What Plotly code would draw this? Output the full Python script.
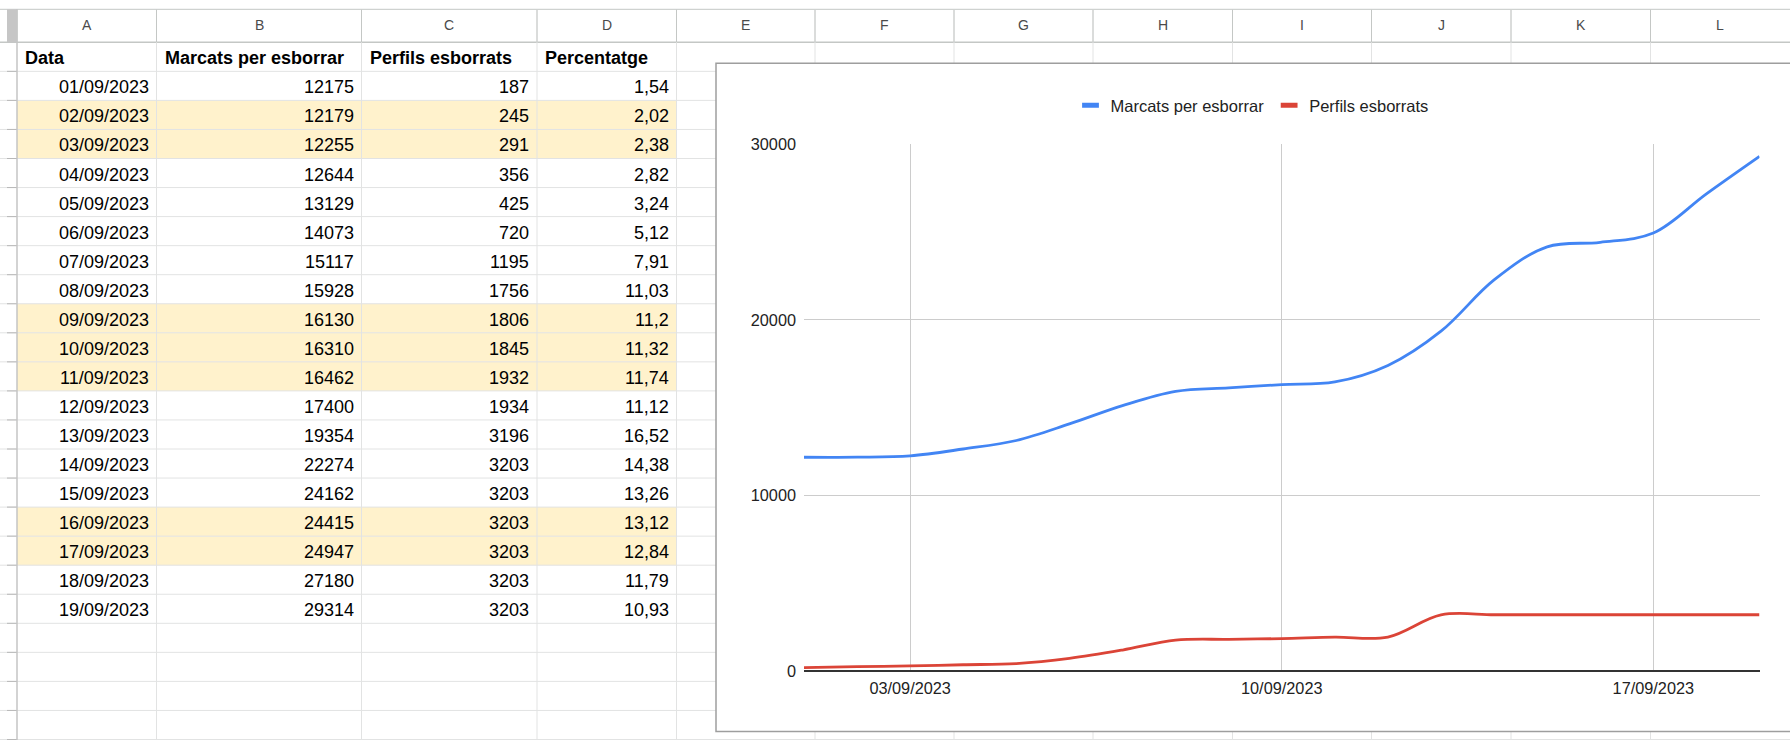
import plotly.graph_objects as go
import pandas as pd

# ---------------- data ----------------
dates = ["01/09/2023", "02/09/2023", "03/09/2023", "04/09/2023", "05/09/2023",
         "06/09/2023", "07/09/2023", "08/09/2023", "09/09/2023", "10/09/2023",
         "11/09/2023", "12/09/2023", "13/09/2023", "14/09/2023", "15/09/2023",
         "16/09/2023", "17/09/2023", "18/09/2023", "19/09/2023"]
marcats = [12175, 12179, 12255, 12644, 13129, 14073, 15117, 15928, 16130, 16310,
           16462, 17400, 19354, 22274, 24162, 24415, 24947, 27180, 29314]
perfils = [187, 245, 291, 356, 425, 720, 1195, 1756, 1806, 1845,
           1932, 1934, 3196, 3203, 3203, 3203, 3203, 3203, 3203]
percentatge = [1.54, 2.02, 2.38, 2.82, 3.24, 5.12, 7.91, 11.03, 11.2, 11.32,
               11.74, 11.12, 16.52, 14.38, 13.26, 13.12, 12.84, 11.79, 10.93]
headers = ["Data", "Marcats per esborrar", "Perfils esborrats", "Percentatge"]
col_letters = ["A", "B", "C", "D", "E", "F", "G", "H", "I", "J", "K", "L"]
highlight_rows = ["02/09/2023", "03/09/2023", "09/09/2023", "10/09/2023",
                  "11/09/2023", "16/09/2023", "17/09/2023"]
series_names = ["Marcats per esborrar", "Perfils esborrats"]

# ---------------- layout helpers ----------------
W, H = 1790, 740
FONT = "Arial, 'Liberation Sans', sans-serif"


def px(x):
    return x / W


def py(y):
    return 1 - y / H


col_edges = [17, 156.5, 361.5, 537, 676.5, 815, 954, 1093, 1232.5, 1371.5, 1511, 1650.5, 1790]
hdr_top, hdr_bot = 9.3, 42.3
row_h = 29.05
n_rows = 24
row_lines = [hdr_bot + row_h * k for k in range(1, n_rows + 1)]

shapes = []
annotations = []

# yellow highlighted rows
for i, d in enumerate(dates):
    if d in highlight_rows:
        y0 = hdr_bot + row_h * (i + 1)
        shapes.append(dict(type="rect", xref="paper", yref="paper", layer="below",
                           x0=px(col_edges[0]), x1=px(col_edges[4]),
                           y0=py(y0), y1=py(y0 + row_h),
                           fillcolor="#fff2cc", line=dict(width=0)))

# horizontal grid lines
for y in row_lines:
    shapes.append(dict(type="line", xref="paper", yref="paper", layer="below",
                       x0=0, x1=1, y0=py(y), y1=py(y),
                       line=dict(color="#e2e3e3", width=1)))
    shapes.append(dict(type="line", xref="paper", yref="paper", layer="below",
                       x0=px(7), x1=px(17), y0=py(y), y1=py(y),
                       line=dict(color="#b8b8b8", width=1)))
shapes.append(dict(type="line", xref="paper", yref="paper", layer="below",
                   x0=0, x1=1, y0=py(hdr_top), y1=py(hdr_top),
                   line=dict(color="#c4c7c5", width=1)))
shapes.append(dict(type="line", xref="paper", yref="paper", layer="below",
                   x0=0, x1=1, y0=py(hdr_bot), y1=py(hdr_bot),
                   line=dict(color="#c4c7c5", width=1.5)))
# vertical grid lines
for k, x in enumerate(col_edges[:-1]):
    shapes.append(dict(type="line", xref="paper", yref="paper", layer="below",
                       x0=px(x), x1=px(x), y0=py(hdr_top), y1=0,
                       line=dict(color="#c4c4c4" if k == 0 else "#e2e3e3",
                                 width=1.5 if k == 0 else 1)))
    shapes.append(dict(type="line", xref="paper", yref="paper", layer="below",
                       x0=px(x), x1=px(x), y0=py(hdr_top), y1=py(hdr_bot),
                       line=dict(color="#c4c7c5", width=1)))
# frozen gray bar
shapes.append(dict(type="rect", xref="paper", yref="paper", layer="below",
                   x0=px(7), x1=px(17), y0=py(hdr_bot), y1=py(hdr_top),
                   fillcolor="#c6c6c6", line=dict(width=0)))

# chart box
shapes.append(dict(type="rect", xref="paper", yref="paper", layer="below",
                   x0=px(716), x1=px(1800), y0=py(731.5), y1=py(63.3),
                   fillcolor="white", line=dict(color="#9e9e9e", width=1.5)))

# column letters
for j, letter in enumerate(col_letters):
    annotations.append(dict(text=letter, xref="paper", yref="paper",
                            x=px((col_edges[j] + col_edges[j + 1]) / 2), y=py(24.5),
                            xanchor="center", yanchor="middle", showarrow=False,
                            font=dict(family=FONT, size=14, color="#4a4a4a")))

# header cells
for j, h in enumerate(headers):
    annotations.append(dict(text="<b>" + h + "</b>", xref="paper", yref="paper",
                            x=px(col_edges[j] + 6), y=py(hdr_bot + row_h / 2 + 1.0),
                            xanchor="left", yanchor="middle", showarrow=False,
                            font=dict(family=FONT, size=18, color="#000000")))

# data cells
for i in range(len(dates)):
    yc = hdr_bot + row_h * (i + 1) + row_h / 2 + 1.5
    vals = [dates[i], str(marcats[i]), str(perfils[i]), str(percentatge[i]).replace(".", ",")]
    for j, v in enumerate(vals):
        annotations.append(dict(text=v, xref="paper", yref="paper",
                                x=px(col_edges[j + 1] - 6), y=py(yc),
                                xanchor="right", yanchor="middle", showarrow=False,
                                font=dict(family=FONT, size=18, color="#000000")))

# ---------------- chart ----------------
xdates = pd.to_datetime(dates, format="%d/%m/%Y")
colors = ["#4285f4", "#db4437"]

fig = go.Figure()
for name, vals, c in zip(series_names, [marcats, perfils], colors):
    fig.add_trace(go.Scatter(x=xdates, y=vals, mode="lines", name=name,
                             line=dict(color=c, width=2.8, shape="spline", smoothing=1),
                             showlegend=False, hoverinfo="skip"))
    # legend swatch
    fig.add_trace(go.Scatter(x=[None], y=[None], mode="markers", name=name,
                             marker=dict(symbol="line-ew", size=12,
                                         line=dict(color=c, width=5)),
                             showlegend=True))

x_left, x_right = 804, 1759.5
y_top, y_bot = 144.3, 671

fig.update_layout(
    width=W, height=H,
    margin=dict(l=0, r=0, t=0, b=0, autoexpand=False),
    paper_bgcolor="white", plot_bgcolor="white",
    shapes=shapes, annotations=annotations,
    showlegend=True,
    legend=dict(orientation="h", x=px(1252), y=py(105.5), xanchor="center", yanchor="middle",
                font=dict(family=FONT, size=16.5, color="#222222"), bgcolor="rgba(0,0,0,0)"),
    xaxis=dict(domain=[px(x_left), px(x_right)], type="date",
               range=[xdates[0], xdates[-1]], automargin=False,
               tick0="2023-09-03", dtick=7 * 24 * 3600 * 1000, tickformat="%d/%m/%Y",
               showgrid=True, gridcolor="#cccccc", gridwidth=1,
               zeroline=False, showline=False, ticks="",
               ticklabelstandoff=6,
               tickfont=dict(family=FONT, size=16.3, color="#222222")),
    yaxis=dict(domain=[py(y_bot), py(y_top)], range=[0, 30000], dtick=10000,
               tickformat="d", showgrid=True, gridcolor="#cccccc", gridwidth=1,
               zeroline=True, zerolinecolor="#333333", zerolinewidth=2,
               showline=False, ticks="", ticklabelstandoff=7, automargin=False,
               tickfont=dict(family=FONT, size=16.3, color="#222222")),
)

fig.write_html("out.html", config={"displayModeBar": False},
               post_script="document.body.style.margin='0px';")
